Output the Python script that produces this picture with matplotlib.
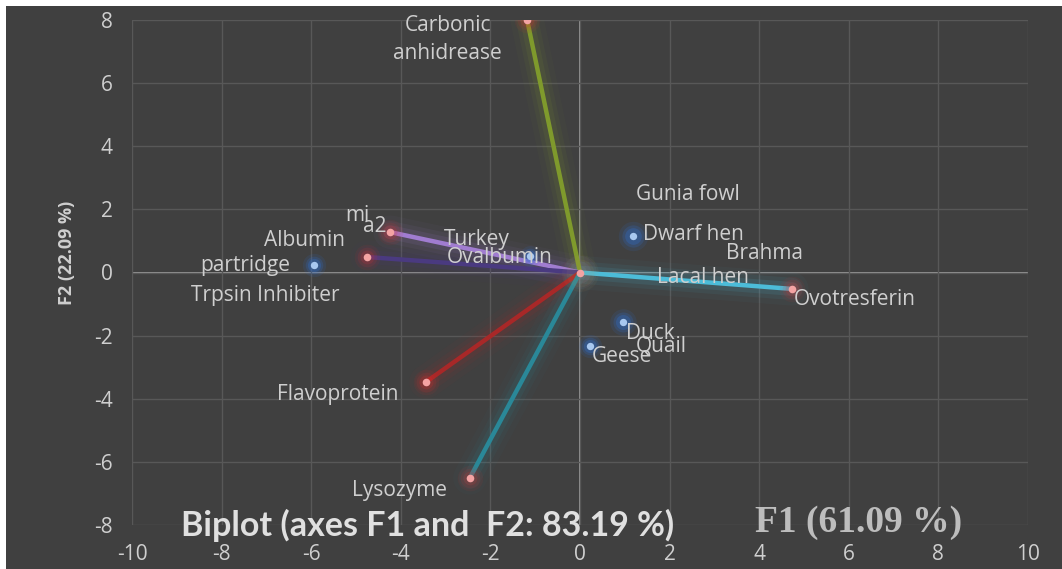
import matplotlib
matplotlib.use("Agg")
import matplotlib.pyplot as plt
from matplotlib.patches import Rectangle

plt.rcParams["axes.unicode_minus"] = False

# ---- data ----
var_labels = ["Carbonic\nanhidrease", "mi a2", "Albumin", "Flavoprotein", "Lysozyme", "Ovotresferin"]
var_x = [-1.18, -4.24, -4.75, -3.44, -2.46, 4.73]
var_y = [8.0, 1.28, 0.49, -3.47, -6.51, -0.52]
var_colors = ["#7f9a2c", "#a07cd0", "#4a3a80", "#a82828", "#2a8898", "#4cbcd8"]

obs_labels = ["partridge", "Turkey", "Dwarf hen", "Duck", "Geese"]
obs_x = [-5.94, -1.12, 1.18, 0.96, 0.22]
obs_y = [0.24, 0.52, 1.16, -1.57, -2.33]
obs_glow = [1.0, 0.8, 1.6, 1.3, 1.0]

# text labels: (text, x, y)
text_labels = [
    ("Carbonic\nanhidrease", -2.95, 7.38),
    ("mi", -4.96, 1.82),
    ("a2", -4.58, 1.47),
    ("Albumin", -6.16, 1.0),
    ("partridge", -7.48, 0.21),
    ("Trpsin Inhibiter", -7.03, -0.74),
    ("Turkey", -2.30, 1.03),
    ("Ovalbumin", -1.79, 0.49),
    ("Gunia fowl", 2.41, 2.46),
    ("Dwarf hen", 2.54, 1.19),
    ("Brahma", 4.11, 0.59),
    ("Lacal hen", 2.75, -0.17),
    ("Ovotresferin", 6.14, -0.87),
    ("Duck", 1.56, -1.92),
    ("Quail", 1.81, -2.33),
    ("Geese", 0.94, -2.65),
    ("Flavoprotein", -5.40, -3.85),
    ("Lysozyme", -4.02, -6.92),
]

x_ticks = list(range(-10, 11, 2))
y_ticks = list(range(-8, 9, 2))

BG = "#404040"
TXT = "#cfcfcf"

fig = plt.figure(figsize=(10.62, 5.69), dpi=100, facecolor="white")
fig.patches.append(Rectangle((6 / 1062, 0), 1, 1 - 6 / 569, transform=fig.transFigure,
                             facecolor=BG, edgecolor="none", zorder=-10))
ax = fig.add_axes([132 / 1062, 1 - 525 / 569, (1028 - 132) / 1062, (525 - 20) / 569])
ax.set_facecolor(BG)
ax.set_xlim(-10, 10)
ax.set_ylim(-8, 8)
ax.set_xticks(x_ticks)
ax.set_yticks(y_ticks)
ax.grid(True, color="#585858", linewidth=1.0)
for s in ax.spines.values():
    s.set_visible(False)
ax.tick_params(length=0, colors=TXT, labelsize=15, pad=14)
for lab in ax.get_xticklabels() + ax.get_yticklabels():
    lab.set_fontfamily("Open Sans")
ax.axhline(0, color="#a8a8a8", linewidth=1.2, zorder=1)
ax.axvline(0, color="#a8a8a8", linewidth=1.2, zorder=1)

# vectors with glow
for x, y, c in zip(var_x, var_y, var_colors):
    for lw, a in [(24, 0.04), (16, 0.07), (10, 0.11)]:
        ax.plot([0, x], [0, y], color=c, linewidth=lw, alpha=a, solid_capstyle="round", zorder=2)
    ax.plot([0, x], [0, y], color=c, linewidth=3.2, zorder=3, solid_capstyle="butt")
    for s_, a in [(340, 0.08), (200, 0.12), (100, 0.18)]:
        ax.scatter([x], [y], s=s_, color="#d83030", alpha=a, linewidths=0, zorder=4)
    ax.scatter([x], [y], s=30, color="#f4a3a3", linewidths=0, zorder=5)
ax.scatter([0], [0], s=30, color="#f4a3a3", linewidths=0, zorder=5)
for s_, a in [(700, 0.06), (400, 0.08)]:
    ax.scatter([0], [0], s=s_, color="#c8a060", alpha=a, linewidths=0, zorder=4)

# observations
for x, y, g in zip(obs_x, obs_y, obs_glow):
    for s_, a in [(280, 0.12), (160, 0.2), (90, 0.3)]:
        ax.scatter([x], [y], s=s_ * g, color="#2f6fd0", alpha=a, linewidths=0, zorder=4)
    ax.scatter([x], [y], s=28, color="#a8c8f0", linewidths=0, zorder=5)

for t, x, y in text_labels:
    ax.text(x, y, t, ha="center", va="center", fontsize=15, color=TXT,
            fontfamily="Open Sans", zorder=6, linespacing=1.45)

fig.text(428 / 1062, 1 - 525 / 569, "Biplot (axes F1 and  F2: 83.19 %)", ha="center", va="center",
         fontsize=24.5, fontweight="bold", color="#e0e0e0", fontfamily="Lato")
fig.text(859 / 1062, 1 - 523 / 569, "F1 (61.09 %)", ha="center", va="center",
         fontsize=27, fontweight="bold", color="#bdbdbd", fontfamily="Liberation Serif")
fig.text(67 / 1062, 1 - 253 / 569, "F2 (22.09 %)", ha="center", va="center", rotation=90,
         fontsize=13, fontweight="bold", color=TXT, fontfamily="Open Sans")

fig.savefig("out.png", dpi=100, facecolor=fig.get_facecolor())
